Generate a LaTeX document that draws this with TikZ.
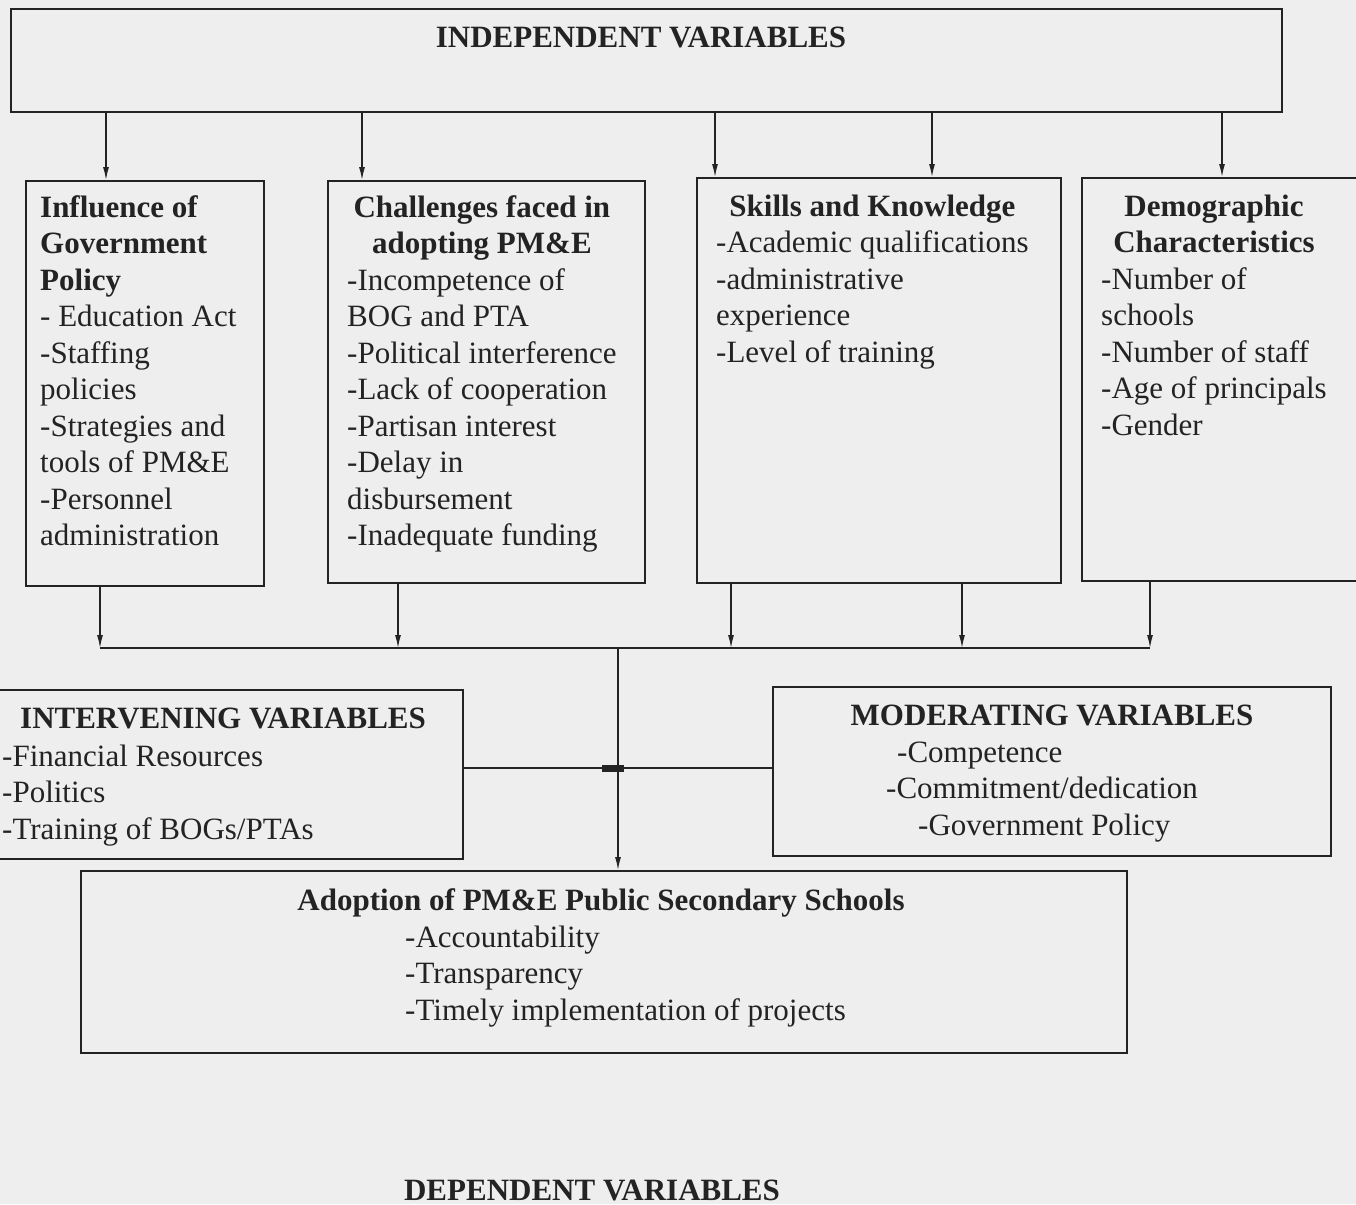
\documentclass[tikz,border=0pt]{standalone}
\usepackage{fontspec}
\setmainfont{Liberation Serif}
\usepackage{xcolor}
\usepackage{tikz}
\usetikzlibrary{arrows.meta, positioning, calc}
\definecolor{vcink}{HTML}{232323}
\definecolor{vcpaper}{HTML}{EEEEEE}

\begin{document}
\begin{tikzpicture}[
  x=1pt, y=1pt,
  varbox/.style={rectangle, draw=vcink, line width=1.6pt, anchor=north west, inner sep=0pt},
  vartext/.style={inner sep=0pt, anchor=base west, text=vcink, font=\fontsize{31}{36.5}\selectfont},
  flow/.style={draw=vcink, line width=1.3pt, -{Latex[length=13pt,width=6pt]}},
  bus/.style={draw=vcink, line width=1.6pt}
]
  \useasboundingbox (0,0) rectangle (1356,-1204);
  \fill[vcpaper] (0,0) rectangle (1356,-1204);
  \clip (0,0) rectangle (1356,-1204);

  \node[varbox, minimum width=1271pt, minimum height=103pt] (indep) at (10,-8) {};
  \node[vartext, anchor=base] (indepT) at (641,-48) {\textbf{INDEPENDENT VARIABLES}};

  \node[varbox, minimum width=238pt, minimum height=405pt] (policy) at (25,-180) {};
  \node[vartext] (policyT) at (40,-217) {
    \begin{tabular}[t]{@{}l@{}}
      \textbf{Influence of} \\
      \textbf{Government} \\
      \textbf{Policy} \\
      - Education Act \\
      -Staffing \\
      policies \\
      -Strategies and \\
      tools of PM\&E \\
      -Personnel \\
      administration
    \end{tabular}
  };

  \node[varbox, minimum width=317pt, minimum height=402pt] (challenge) at (327,-180) {};
  \node[vartext] (challengeT) at (347,-217) {
    \begin{tabular}[t]{@{}l@{}}
      \multicolumn{1}{@{}c@{}}{\textbf{Challenges faced in}} \\
      \multicolumn{1}{@{}c@{}}{\textbf{adopting PM\&E}} \\
      -Incompetence of \\
      BOG and PTA \\
      -Political interference \\
      -Lack of cooperation \\
      -Partisan interest \\
      -Delay in \\
      disbursement \\
      -Inadequate funding
    \end{tabular}
  };

  \node[varbox, minimum width=364pt, minimum height=405pt] (skills) at (696,-177) {};
  \node[vartext] (skillsT) at (716,-216) {
    \begin{tabular}[t]{@{}l@{}}
      \multicolumn{1}{@{}c@{}}{\textbf{Skills and Knowledge}} \\
      -Academic qualifications \\
      -administrative \\
      experience \\
      -Level of training
    \end{tabular}
  };

  \node[varbox, minimum width=290pt, minimum height=403pt] (demo) at (1081,-177) {};
  \node[vartext] (demoT) at (1101,-216) {
    \begin{tabular}[t]{@{}l@{}}
      \multicolumn{1}{@{}c@{}}{\textbf{Demographic}} \\
      \multicolumn{1}{@{}c@{}}{\textbf{Characteristics}} \\
      -Number of \\
      schools \\
      -Number of staff \\
      -Age of principals \\
      -Gender
    \end{tabular}
  };

  \draw[flow] (indep.south -| 106,0) -- (106,0 |- policy.north);
  \draw[flow] (indep.south -| 362,0) -- (362,0 |- challenge.north);
  \draw[flow] (indep.south -| 715,0) -- (715,0 |- skills.north);
  \draw[flow] (indep.south -| 932,0) -- (932,0 |- skills.north);
  \draw[flow] (indep.south -| 1222,0) -- (1222,0 |- demo.north);

  \coordinate (busL) at (100,-648);
  \coordinate (busR) at (1150,-648);
  \coordinate (join) at (618,-648);
  \draw[flow] (policy.south -| 100,0) -- (100,0 |- join);
  \draw[flow] (challenge.south -| 398,0) -- (398,0 |- join);
  \draw[flow] (skills.south -| 731,0) -- (731,0 |- join);
  \draw[flow] (skills.south -| 962,0) -- (962,0 |- join);
  \draw[flow] (demo.south -| 1150,0) -- (1150,0 |- join);
  \draw[bus] (busL) -- (busR);

  \node[varbox, minimum width=467pt, minimum height=169pt] (inter) at (-5,-689) {};
  \node[vartext] (interT) at (20,-728) {\textbf{INTERVENING VARIABLES}};
  \node[vartext] (interL) at (2,-766) {
    \begin{tabular}[t]{@{}l@{}}
      -Financial Resources \\
      -Politics \\
      -Training of BOGs/PTAs
    \end{tabular}
  };

  \node[varbox, minimum width=558pt, minimum height=169pt] (moder) at (772,-686) {};
  \node[vartext, anchor=base] (moderT) at (1052,-725) {\textbf{MODERATING VARIABLES}};
  \node[vartext] (moderL) at (886,-762) {
    \begin{tabular}[t]{@{}l@{}}
      \hspace*{11pt}-Competence \\
      -Commitment/dedication \\
      \hspace*{32pt}-Government Policy
    \end{tabular}
  };

  \node[varbox, minimum width=1046pt, minimum height=182pt] (adopt) at (80,-870) {};
  \node[vartext, anchor=base] (adoptT) at (601,-910) {\textbf{Adoption of PM\&E Public Secondary Schools}};
  \node[vartext] (adoptL) at (405,-947) {
    \begin{tabular}[t]{@{}l@{}}
      -Accountability \\
      -Transparency \\
      -Timely implementation of projects
    \end{tabular}
  };

  \draw[bus] (inter.east |- 0,-768) -- (moder.west |- 0,-768);
  \fill[vcink] (602,-764.5) rectangle (624,-771.5);
  \draw[flow] (join) -- (join |- adopt.north);

  \node[vartext, anchor=base] (depT) at (592,-1200) {\textbf{DEPENDENT VARIABLES}};
\end{tikzpicture}
\end{document}
